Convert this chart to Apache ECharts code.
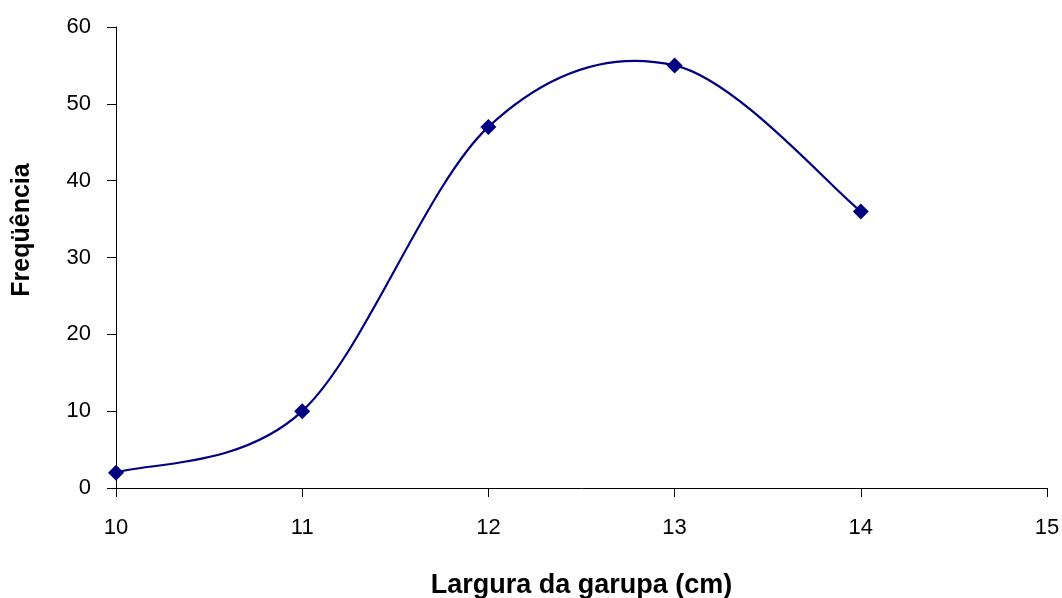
<!DOCTYPE html>
<html>
<head>
<meta charset="utf-8">
<title>Freqüência por largura da garupa</title>
<script src="https://cdn.jsdelivr.net/npm/echarts@6/dist/echarts.min.js"></script>
<style>
  html, body { margin: 0; padding: 0; background: #ffffff; }
  #chart { width: 1062px; height: 598px; }
</style>
</head>
<body>
<div id="chart"></div>
<script>
// Largura da garupa (cm) and observed frequency
var larguras = [10, 11, 12, 13, 14];
var frequencias = [2, 10, 47, 55, 36];
var xTicks = [10, 11, 12, 13, 14, 15];
var yTicks = [0, 10, 20, 30, 40, 50, 60];

var FONT = 'Liberation Sans, Arial, Helvetica, sans-serif';
var NAVY = '#000080';

var pontos = larguras.map(function (x, i) { return [x, frequencias[i]]; });

// Smoothed curve through the points: cubic Bezier segments whose control
// points are P[i] + (P[i+1] - P[i-1]) / 6 (end points repeat themselves).
function renderCurve(params, api) {
  if (params.dataIndex !== 0) return null;
  var pts = pontos.map(function (p) { return api.coord(p); });
  var n = pts.length;
  var d = 'M' + pts[0][0] + ' ' + pts[0][1];
  for (var i = 0; i < n - 1; i++) {
    var p0 = pts[Math.max(i - 1, 0)];
    var p1 = pts[i];
    var p2 = pts[i + 1];
    var p3 = pts[Math.min(i + 2, n - 1)];
    var c1x = p1[0] + (p2[0] - p0[0]) / 6;
    var c1y = p1[1] + (p2[1] - p0[1]) / 6;
    var c2x = p2[0] - (p3[0] - p1[0]) / 6;
    var c2y = p2[1] - (p3[1] - p1[1]) / 6;
    d += ' C' + c1x + ' ' + c1y + ' ' + c2x + ' ' + c2y + ' ' + p2[0] + ' ' + p2[1];
  }
  return {
    type: 'path',
    shape: { pathData: d },
    style: { fill: null, stroke: NAVY, lineWidth: 2.2 },
    silent: true
  };
}

var chart = echarts.init(document.getElementById('chart'), null, { renderer: 'canvas' });

chart.setOption({
  backgroundColor: '#ffffff',
  animation: false,
  grid: { left: 116, right: 15, top: 27, bottom: 110, outerBoundsMode: 'none', containLabel: false },
  xAxis: {
    type: 'value',
    min: xTicks[0],
    max: xTicks[xTicks.length - 1],
    interval: 1,
    name: 'Largura da garupa (cm)',
    nameLocation: 'middle',
    nameGap: 84,
    nameTextStyle: { fontFamily: FONT, fontSize: 27, fontWeight: 'bold', color: '#000' },
    axisLine: { show: true, onZero: false, lineStyle: { color: '#000', width: 1 } },
    axisTick: { show: true, inside: false, length: 9, lineStyle: { color: '#000' } },
    axisLabel: { margin: 29, fontFamily: FONT, fontSize: 22, color: '#000' },
    splitLine: { show: false }
  },
  yAxis: {
    type: 'value',
    min: yTicks[0],
    max: yTicks[yTicks.length - 1],
    interval: 10,
    axisLine: { show: true, lineStyle: { color: '#000', width: 1 } },
    axisTick: { show: true, inside: false, length: 9, lineStyle: { color: '#000' } },
    axisLabel: { margin: 25, fontFamily: FONT, fontSize: 22, color: '#000' },
    splitLine: { show: false }
  },
  graphic: [{
    type: 'text',
    x: 22,
    y: 230,
    rotation: Math.PI / 2,
    style: {
      text: 'Freqüência',
      fontFamily: FONT,
      fontSize: 25,
      fontWeight: 'bold',
      fill: '#000',
      align: 'center',
      verticalAlign: 'middle'
    }
  }],
  series: [{
    type: 'custom',
    coordinateSystem: 'cartesian2d',
    data: pontos,
    renderItem: renderCurve,
    z: 2
  }, {
    type: 'scatter',
    data: pontos,
    symbol: 'diamond',
    symbolSize: 16,
    itemStyle: { color: NAVY, opacity: 1 },
    emphasis: { disabled: true },
    z: 3
  }]
});
</script>
</body>
</html>
